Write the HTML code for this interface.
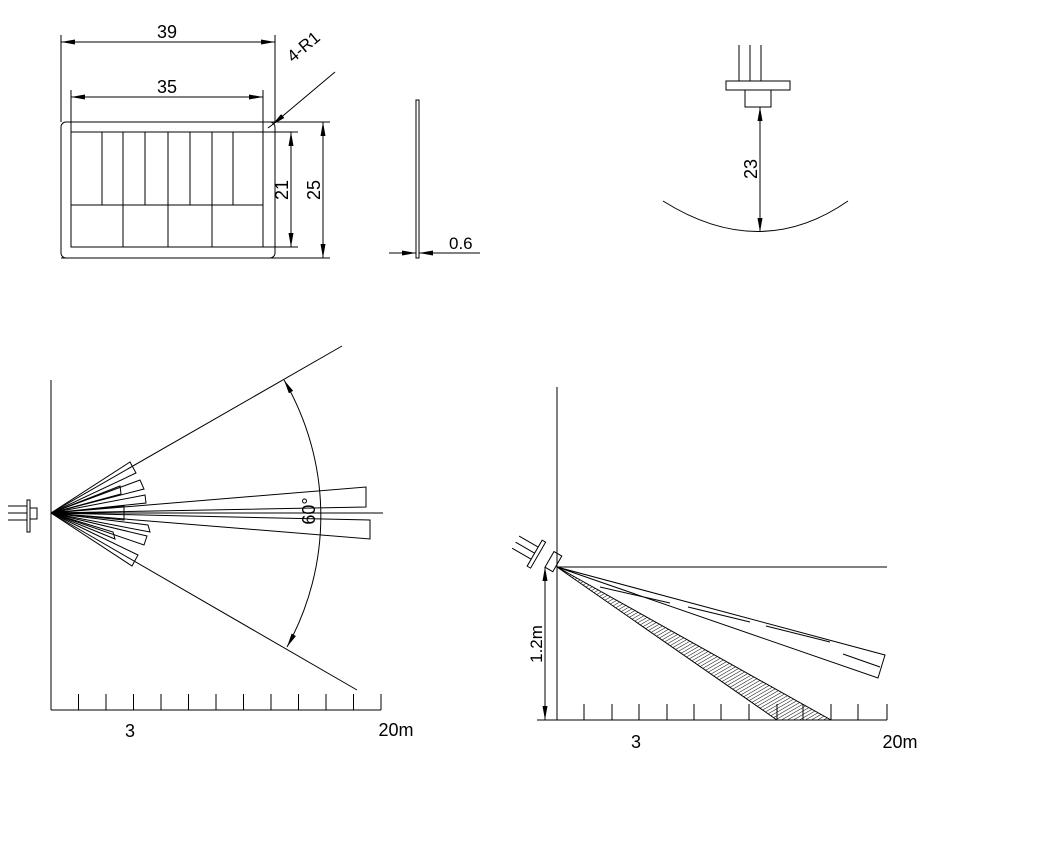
<!DOCTYPE html>
<html><head><meta charset="utf-8"><style>
html,body{margin:0;padding:0;background:#fff;}
svg{display:block;}
text{font-family:"Liberation Sans","DejaVu Sans",sans-serif;fill:#000;}
</style></head><body>
<svg width="1039" height="847" viewBox="0 0 1039 847" xmlns="http://www.w3.org/2000/svg">
<defs>
<marker id="a" viewBox="0 0 14 5" refX="14" refY="2.5" markerWidth="14" markerHeight="5" markerUnits="userSpaceOnUse" orient="auto-start-reverse"><path d="M0,0 L14,2.5 L0,5z" fill="#000"/></marker>
<pattern id="h" width="3" height="3" patternUnits="userSpaceOnUse" patternTransform="rotate(60)"><line x1="0" y1="0" x2="0" y2="3" stroke="#000" stroke-width="1"/></pattern>
</defs>
<g stroke="#000" stroke-width="1" fill="none">
<rect x="61" y="122" width="214" height="136" rx="5"/>
<rect x="71" y="132" width="192" height="115"/>
<line x1="71" y1="205" x2="263" y2="205"/>
<path d="M102,132V205M123,132V247M145,132V205M168,132V247M190,132V205M212,132V247M233,132V205"/>
<line x1="61" y1="35" x2="61" y2="122"/><line x1="275" y1="35" x2="275" y2="122"/>
<line x1="61" y1="42" x2="275" y2="42" marker-start="url(#a)" marker-end="url(#a)"/>
<line x1="71" y1="90" x2="71" y2="132"/><line x1="263" y1="90" x2="263" y2="132"/>
<line x1="71" y1="97" x2="263" y2="97" marker-start="url(#a)" marker-end="url(#a)"/>
<line x1="263" y1="122" x2="330" y2="122"/><line x1="71" y1="132" x2="298" y2="132"/>
<line x1="61" y1="258" x2="330" y2="258"/><line x1="263" y1="247" x2="298" y2="247"/>
<line x1="291" y1="132" x2="291" y2="247" marker-start="url(#a)" marker-end="url(#a)"/>
<line x1="323" y1="122" x2="323" y2="258" marker-start="url(#a)" marker-end="url(#a)"/>
<line x1="335" y1="72" x2="272" y2="125" marker-end="url(#a)"/>
<line x1="268" y1="128" x2="272" y2="125"/>
<rect x="416" y="100" width="3" height="158"/>
<line x1="389" y1="253" x2="416" y2="253" marker-end="url(#a)"/>
<line x1="446" y1="253" x2="419" y2="253" marker-end="url(#a)"/>
<line x1="446" y1="253" x2="480" y2="253"/>
<path d="M739,45V81M750,45V81M761,45V81"/>
<rect x="726" y="81" width="64" height="9"/>
<rect x="745" y="90" width="26" height="17"/>
<line x1="760" y1="107" x2="760" y2="232" marker-start="url(#a)" marker-end="url(#a)"/>
<path d="M663,201 Q760,262 848,201"/>
<line x1="51" y1="380" x2="51" y2="710"/>
<line x1="51" y1="710" x2="381" y2="710"/>
<path d="M78.5,694V710M106,694V710M133.5,694V710M161,694V710M188.5,694V710M216,694V710M243.5,694V710M271,694V710M298.5,694V710M326,694V710M353.5,694V710M381,694V710"/>
<line x1="51" y1="513" x2="342" y2="346"/>
<line x1="51" y1="513" x2="357" y2="690"/>
<path d="M284,380 A270,270 0 0 1 287,647" marker-start="url(#a)" marker-end="url(#a)"/>
<line x1="51" y1="513" x2="383" y2="513"/>
<polygon points="51,513 366,487 366,507"/>
<polygon points="51,513 370,520 370,539"/>
<polygon points="51,513 130,462 136,473"/>
<polygon points="51,513 140,480 144,489"/>
<polygon points="51,513 120,486 121,494"/>
<polygon points="51,513 145,495 146,503"/>
<polygon points="51,513 124,506 124,520"/>
<polygon points="51,513 148,525 150,532"/>
<polygon points="51,513 147,536 144,545"/>
<polygon points="51,513 113,532 115,539"/>
<polygon points="51,513 138,555 132,566"/>
<path d="M8,506H27M8,513H27M8,520H27"/>
<rect x="27" y="500" width="3" height="32"/>
<rect x="30" y="508" width="7" height="11"/>
<line x1="557" y1="387" x2="557" y2="720"/>
<line x1="537" y1="720" x2="887" y2="720"/>
<line x1="557" y1="567" x2="887" y2="567"/>
<path d="M584,704V720M612,704V720M639,704V720M667,704V720M694,704V720M721,704V720M749,704V720M777,704V720M803,704V720M831,704V720M858,704V720M887,704V720"/>
<polygon points="557,567 885,655 878,678"/>
<path d="M600,587L670,603M688,607L750,622M766,626L830,642M843,654L880,667" />
<polygon points="557,567 777,720 831,720" fill="url(#h)"/>
<line x1="777" y1="704" x2="777" y2="720"/><line x1="803" y1="704" x2="803" y2="720"/>
<line x1="545" y1="567" x2="545" y2="720" marker-start="url(#a)" marker-end="url(#a)"/>
<g transform="translate(548,562) rotate(30)">
<rect x="0" y="-12" width="9" height="18"/>
<rect x="-16" y="-16" width="4" height="30"/>
<path d="M-38,-8H-16M-38,-1H-16M-38,6H-16"/>
</g>
</g>
<text x="167" y="38" font-size="18" text-anchor="middle">39</text>
<text x="167" y="93" font-size="18" text-anchor="middle">35</text>
<text transform="translate(293,63) rotate(-40)" font-size="17">4-R1</text>
<text transform="translate(288,190) rotate(-90)" font-size="18" text-anchor="middle">21</text>
<text transform="translate(320,190) rotate(-90)" font-size="18" text-anchor="middle">25</text>
<text x="449" y="249" font-size="17">0.6</text>
<text transform="translate(757,169) rotate(-90)" font-size="18" text-anchor="middle">23</text>
<text transform="translate(315,511) rotate(-90)" font-size="18" text-anchor="middle">60°</text>
<text x="130" y="737" font-size="18" text-anchor="middle">3</text>
<text x="396" y="736" font-size="18" text-anchor="middle">20m</text>
<text transform="translate(542,644) rotate(-90)" font-size="17" text-anchor="middle">1.2m</text>
<text x="636" y="748" font-size="18" text-anchor="middle">3</text>
<text x="900" y="748" font-size="18" text-anchor="middle">20m</text>
</svg>
</body></html>
